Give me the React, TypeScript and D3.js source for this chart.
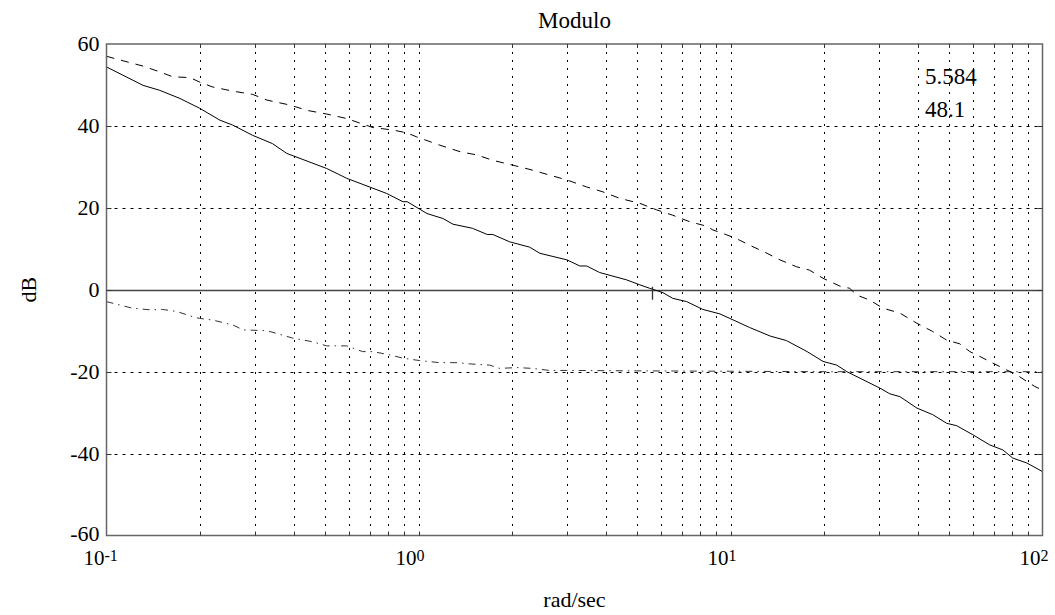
import React from "react";
import * as d3 from "d3";

// values
const solidFreq = [0.1, 0.131, 0.148, 0.172, 0.199, 0.231, 0.254, 0.294, 0.34, 0.378, 0.508, 0.589, 0.791, 0.891, 0.92, 1.065, 1.197, 1.29, 1.49, 1.66, 1.73, 1.96, 2.27, 2.45, 2.99, 3.29, 3.46, 3.81, 4.65, 5.12, 5.51, 6.07, 6.53, 7.24, 8.15, 9.25, 9.95, 11.5, 13.4, 15.1, 17.6, 19.8, 21.9, 23.6, 30.1, 32.4, 34.9, 39.6, 44.5, 49.3, 53.1, 59.8, 67.8, 74.6, 80.3, 89.1, 100];
const solidDb = [54.4, 49.9, 48.7, 46.7, 44.3, 41.4, 40.2, 37.7, 35.7, 33.3, 29.6, 27.2, 23.5, 21.5, 21.5, 18.6, 17.4, 16.0, 15.0, 13.5, 13.5, 11.7, 10.4, 8.9, 7.3, 5.8, 5.8, 4.2, 2.4, 1.2, 0.35, -0.7, -2.1, -2.9, -4.8, -5.9, -7.0, -9.2, -11.3, -12.4, -15.1, -17.5, -18.4, -20, -24, -25.4, -26.1, -28.9, -30.5, -32.6, -33.2, -35.4, -37.9, -39.1, -41.1, -42.3, -44.4];

const dashFreq = [0.1, 0.113, 0.131, 0.148, 0.163, 0.185, 0.199, 0.219, 0.254, 0.294, 0.327, 0.387, 0.439, 0.508, 0.589, 0.648, 0.714, 0.828, 0.918, 0.988, 1.17, 1.36, 1.54, 1.73, 2.01, 2.32, 2.63, 2.99, 3.46, 3.9, 4.42, 5.12, 5.8, 6.53, 7.41, 8.4, 8.78, 9.73, 10.7, 11.5, 13.1, 14.4, 16.3, 17.9, 19.8, 22.4, 24.1, 25.4, 27.9, 30.8, 34.9, 39.6, 44.5, 49.3, 54.3, 58.5, 63.0, 69.3, 76.9, 82.8, 89.1, 94.4, 100];
const dashDb = [57.0, 55.9, 54.6, 53.2, 52.0, 51.8, 50.7, 49.5, 48.5, 47.7, 46.3, 45.1, 43.8, 42.9, 41.8, 40.7, 39.6, 39.0, 38.3, 37.3, 35.3, 33.7, 32.9, 31.6, 30.4, 29.2, 28.0, 26.8, 25.1, 23.9, 22.3, 21.1, 19.5, 18.2, 16.6, 15.5, 14.6, 13.4, 12.1, 10.9, 8.9, 7.3, 5.6, 4.8, 2.8, 0.9, 0.35, -1.3, -2.5, -4.5, -5.7, -8.2, -10.2, -12.3, -13.2, -15.1, -16.3, -17.9, -19.6, -20.8, -22.4, -23.6, -24.5];

const dotFreq = [0.1, 0.121, 0.138, 0.151, 0.168, 0.189, 0.199, 0.219, 0.254, 0.274, 0.327, 0.395, 0.458, 0.508, 0.589, 0.662, 0.714, 0.809, 0.891, 1.01, 1.17, 1.33, 1.46, 1.69, 1.82, 2.07, 2.32, 2.63, 2.99, 5, 10, 20, 100];
const dotDb = [-2.9, -4.5, -4.9, -4.8, -5.3, -6.6, -7.0, -7.4, -8.6, -9.8, -10.0, -11.8, -12.7, -13.7, -13.7, -15.1, -15.1, -15.9, -16.7, -17.3, -17.8, -17.8, -18.1, -18.4, -19.2, -19.0, -19.2, -19.7, -19.7, -19.8, -19.9, -20, -20];

const yTicks = [60, 40, 20, 0, -20, -40, -60];
const xDecades = [-1, 0, 1, 2];
const markerFreq = 5.584;
const notes = ["5.584", "48.1"];

const W = 1055;
const H = 615;
const left = 106.5, right = 1042.5, top = 44, bottom = 535.5;

const x = d3.scaleLog().domain([0.1, 100]).range([left, right]);
const y = d3.scaleLinear().domain([-60, 60]).range([bottom, top]);

const line = d3
  .line<[number, number]>()
  .x((d) => x(d[0]))
  .y((d) => y(d[1]));

const zip = (f: number[], v: number[]) => f.map((d, i) => [d, v[i]] as [number, number]);
const snap = (v: number) => Math.round(v) + 0.5;

const font = "'Liberation Serif', 'Times New Roman', serif";

export default function App() {
  const vTicks = x.ticks().filter((t) => t > 0.1 + 1e-9 && t < 100 - 1e-9);
  const hTicks = yTicks.filter((t) => t !== 60 && t !== -60);

  return (
    <svg
      width={W}
      height={H}
      style={{ position: "absolute", left: 0, top: 0, background: "#fff" }}
      fontFamily={font}
    >
      {/* grid */}
      <g stroke="#000" strokeWidth={1} fill="none">
        {vTicks.map((t, i) => (
          <line key={"v" + i} x1={snap(x(t))} x2={snap(x(t))} y1={top} y2={bottom} strokeDasharray="2,6" />
        ))}
        {hTicks.map((t) => (
          <line key={"h" + t} x1={left} x2={right} y1={snap(y(t))} y2={snap(y(t))} strokeDasharray="3,5" />
        ))}
      </g>
      {/* 0 dB line */}
      <line x1={left} x2={right} y1={snap(y(0))} y2={snap(y(0))} stroke="#444" strokeWidth={1.3} />

      {/* curves */}
      <path d={line(zip(dotFreq, dotDb)) || ""} fill="none" stroke="#333" strokeWidth={1} strokeDasharray="7,5,1.5,5" />
      <path d={line(zip(dashFreq, dashDb)) || ""} fill="none" stroke="#000" strokeWidth={1} strokeDasharray="8,7" />
      <path d={line(zip(solidFreq, solidDb)) || ""} fill="none" stroke="#000" strokeWidth={1} />

      {/* marker */}
      <line x1={snap(x(markerFreq))} x2={snap(x(markerFreq))} y1={y(0) - 3} y2={y(0) + 10} stroke="#333" strokeWidth={1.3} />

      {/* frame */}
      <rect x={left} y={top} width={right - left} height={bottom - top} fill="none" stroke="#666" strokeWidth={1.5} />
      <g stroke="#333" strokeWidth={1}>
        {hTicks.map((t) => (
          <g key={"yt" + t}>
            <line x1={left} x2={left + 5} y1={snap(y(t))} y2={snap(y(t))} />
            <line x1={right - 5} x2={right} y1={snap(y(t))} y2={snap(y(t))} />
          </g>
        ))}
        {vTicks.map((t, i) => (
          <g key={"xt" + i}>
            <line x1={snap(x(t))} x2={snap(x(t))} y1={bottom - 4} y2={bottom} />
            <line x1={snap(x(t))} x2={snap(x(t))} y1={top} y2={top + 4} />
          </g>
        ))}
      </g>

      {/* y tick labels */}
      {yTicks.map((t) => (
        <text key={"yl" + t} x={left - 7} y={y(t) + (t === -60 ? 5.5 : 7)} textAnchor="end" fontSize={22} fill="#000">
          {t}
        </text>
      ))}

      {/* x tick labels */}
      {xDecades.map((p) => {
        const px = x(Math.pow(10, p));
        return (
          <g key={"xl" + p}>
            <text x={px - 2} y={bottom + 29.5} textAnchor="end" fontSize={21} fill="#000">
              10
            </text>
            <text x={px - 2} y={bottom + 25} textAnchor="start" fontSize={16} fill="#000">
              {p}
            </text>
          </g>
        );
      })}

      {/* titles */}
      <text x={(left + right) / 2} y={28} textAnchor="middle" fontSize={23} fill="#000">
        Modulo
      </text>
      <text x={(left + right) / 2} y={607} textAnchor="middle" fontSize={22} fill="#000">
        rad/sec
      </text>
      <text
        transform={`translate(36,${(top + bottom) / 2}) rotate(-90)`}
        textAnchor="middle"
        fontSize={22}
        fill="#000"
      >
        dB
      </text>

      {/* annotation */}
      <text x={925} y={84} fontSize={23} fill="#000">
        {notes[0]}
      </text>
      <text x={925} y={117} fontSize={23} fill="#000">
        {notes[1]}
      </text>
    </svg>
  );
}
